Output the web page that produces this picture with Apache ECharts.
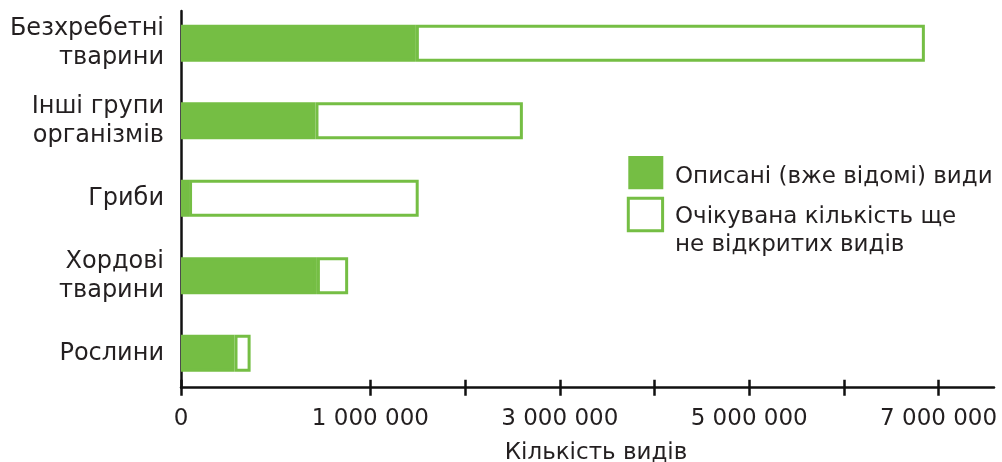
<!DOCTYPE html>
<html>
<head>
<meta charset="utf-8">
<script src="https://cdn.jsdelivr.net/npm/echarts@6/dist/echarts.min.js"></script>
<style>html,body{margin:0;padding:0;background:#fff}#c{width:1002px;height:462px}</style>
</head>
<body>
<div id="c"></div>
<script>
// Categories, top to bottom
const categories = ['Безхребетні\nтварини', 'Інші групи\nорганізмів', 'Гриби', 'Хордові\nтварини', 'Рослини'];
// Values in the picture's axis units (as drawn against the printed scale)
const described = [2480000, 1420000, 85000, 1435000, 565000];
const undiscovered = [5375000, 2190000, 2425000, 330000, 170000];
// Tick positions and their printed labels
const tickValues = [0, 2000000, 3000000, 4000000, 5000000, 6000000, 7000000, 8000000];
const tickLabels = ['0', '1 000 000', '', '3 000 000', '', '5 000 000', '', '7 000 000'];
const seriesNames = ['Описані (вже відомі) види', 'Очікувана кількість ще\nне відкритих видів'];
const axisTitle = 'Кількість видів';

const GREEN = '#75be44';
const TXT = '#231f20';
const FONT = 'DejaVu Sans';
const AXMAX = 8585000;

const chart = echarts.init(document.getElementById('c'), null, {renderer: 'canvas'});
const gridL = 181, gridR = 8;
// legend icons: square drawn at top of the icon box (a zero-length point extends the box downward)
const icon1 = 'path://M0,0L35,0L35,33.3L0,33.3Z M0,42L0,42';
const icon2 = 'path://M0,0L34.3,0L34.3,32.6L0,32.6Z M0,65.6L0,65.6';
chart.setOption({
  animation: false,
  textStyle: {fontFamily: FONT, color: TXT},
  grid: [
    {left: gridL, right: gridR, top: 4.6, height: 387.5, outerBoundsMode: 'none', containLabel: false},
    {left: gridL, right: gridR, top: 11, bottom: 74.3, outerBoundsMode: 'none', containLabel: false},
    {left: gridL, right: gridR, top: 11, bottom: 74.3, outerBoundsMode: 'none', containLabel: false}
  ],
  xAxis: [
    {gridIndex: 0, type: 'value', min: 0, max: AXMAX, show: false},
    {gridIndex: 1, type: 'value', min: 0, max: AXMAX,
      axisLine: {show: true, lineStyle: {color: '#111', width: 2.5}},
      axisTick: {show: true, inside: false, length: 8, customValues: tickValues, lineStyle: {color: '#111', width: 2.5}},
      axisLabel: {show: true, customValues: tickValues.filter((v, i) => tickLabels[i] !== ''), margin: 20,
        fontFamily: FONT, fontSize: 23, color: TXT,
        formatter: v => tickLabels[tickValues.indexOf(v)]},
      splitLine: {show: false},
      name: axisTitle, nameLocation: 'middle', nameGap: 54,
      nameTextStyle: {fontFamily: FONT, fontSize: 23, color: TXT, padding: [0, 0, 0, 17]}
    },
    {gridIndex: 2, type: 'value', min: 0, max: AXMAX,
      axisLine: {show: false},
      axisTick: {show: true, inside: true, length: 8, customValues: tickValues, lineStyle: {color: '#111', width: 2.5}},
      axisLabel: {show: false}, splitLine: {show: false}
    }
  ],
  yAxis: [
    {gridIndex: 0, type: 'category', data: categories, inverse: true,
      axisLine: {show: false}, axisTick: {show: false},
      axisLabel: {interval: 0, margin: 17, fontFamily: FONT, fontSize: 24, lineHeight: 29, color: TXT, align: 'right'}
    },
    {gridIndex: 1, type: 'value', min: 0, max: 1,
      axisLine: {show: true, lineStyle: {color: '#111', width: 2.5}},
      axisTick: {show: false}, axisLabel: {show: false}, splitLine: {show: false}
    },
    {gridIndex: 2, type: 'value', min: 0, max: 1, show: false}
  ],
  legend: [
    {orient: 'vertical', left: 628.3, top: 156, padding: 0, itemWidth: 35, itemHeight: 42,
      icon: icon1, symbolKeepAspect: false,
      textStyle: {fontFamily: FONT, fontSize: 23, color: TXT, lineHeight: 28, padding: [0, 0, 0, 6.7]},
      data: [{name: seriesNames[0], itemStyle: {color: GREEN, borderWidth: 0}}]},
    {orient: 'vertical', left: 626.8, top: 196.7, padding: 0, itemWidth: 34.3, itemHeight: 65.6,
      icon: icon2, symbolKeepAspect: false,
      textStyle: {fontFamily: FONT, fontSize: 23, color: TXT, lineHeight: 28, padding: [0, 0, 0, 7.4]},
      data: [{name: seriesNames[1], itemStyle: {color: '#fff', borderColor: GREEN, borderWidth: 3}}]}
  ],
  series: [
    {name: seriesNames[0], type: 'bar', stack: 's', xAxisIndex: 0, yAxisIndex: 0, barWidth: 37,
      data: described, itemStyle: {color: GREEN, borderColor: GREEN, borderWidth: 3}},
    {name: seriesNames[1], type: 'bar', stack: 's', xAxisIndex: 0, yAxisIndex: 0, barWidth: 37,
      data: undiscovered, itemStyle: {color: '#fff', borderColor: GREEN, borderWidth: 3}}
  ]
});
</script>
</body>
</html>
